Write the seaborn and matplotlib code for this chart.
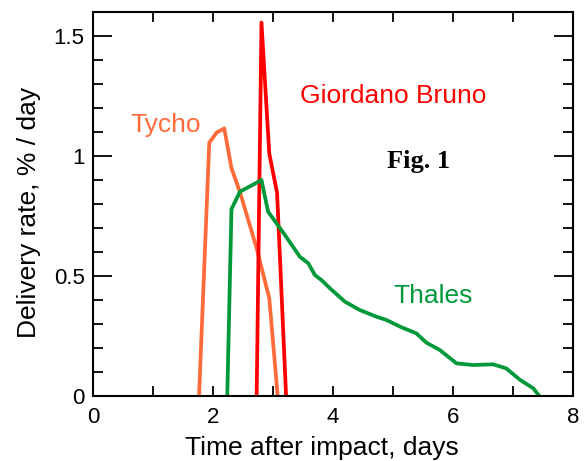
import numpy as np
import pandas as pd
import seaborn as sns
import matplotlib.pyplot as plt
from matplotlib.ticker import MultipleLocator

# ===== data =====
tycho_t = [1.77, 1.94, 2.06, 2.19, 2.31, 2.45, 2.59, 2.73, 2.94, 3.08]
tycho_v = [0.0, 1.055, 1.097, 1.115, 0.949, 0.851, 0.733, 0.615, 0.407, 0.0]

bruno_t = [2.73, 2.81, 2.94, 3.07, 3.22]
bruno_v = [0.0, 1.556, 1.01, 0.847, 0.0]

thales_t = [2.24, 2.31, 2.45, 2.76, 2.81, 2.92, 3.2, 3.45, 3.59, 3.7, 3.81, 3.95,
            4.2, 4.45, 4.73, 4.89, 5.12, 5.39, 5.56, 5.78, 6.06, 6.34, 6.67,
            6.89, 7.12, 7.34, 7.44]
thales_v = [0.0, 0.778, 0.851, 0.893, 0.9, 0.768, 0.671, 0.58, 0.553, 0.504, 0.483,
            0.449, 0.393, 0.358, 0.33, 0.317, 0.289, 0.261, 0.222, 0.192, 0.136,
            0.129, 0.132, 0.115, 0.067, 0.032, 0.0]

# ===== style =====
sns.set_style("ticks")
plt.rcParams['font.family'] = ['Liberation Sans', 'DejaVu Sans']
plt.rcParams['axes.linewidth'] = 1.5
plt.rcParams['axes.labelcolor'] = 'black'
plt.rcParams['text.color'] = 'black'

colors = {'Tycho': '#FF6A3A', 'Giordano Bruno': '#FF0000', 'Thales': '#00993A'}

df = pd.concat([
    pd.DataFrame({'t': tycho_t, 'v': tycho_v, 'crater': 'Tycho'}),
    pd.DataFrame({'t': bruno_t, 'v': bruno_v, 'crater': 'Giordano Bruno'}),
    pd.DataFrame({'t': thales_t, 'v': thales_v, 'crater': 'Thales'}),
])

fig = plt.figure(figsize=(5.84, 4.61), dpi=100)
ax = fig.add_axes([0.159, 0.141, 0.822, 0.833])

sns.lineplot(data=df, x='t', y='v', hue='crater', palette=colors,
             estimator=None, sort=False, linewidth=2.7, legend=False, ax=ax)

ax.set_xlim(0, 8)
ax.set_ylim(0, 1.6)
ax.xaxis.set_major_locator(MultipleLocator(2))
ax.xaxis.set_minor_locator(MultipleLocator(1))
ax.yaxis.set_major_locator(MultipleLocator(0.5))
ax.yaxis.set_minor_locator(MultipleLocator(0.1))
ax.yaxis.set_major_formatter(plt.FuncFormatter(lambda v, p: f"{v:g}"))

ax.tick_params(which='both', direction='in', top=True, right=True,
               width=1.3, color='black', labelsize=16, labelcolor='black')
ax.tick_params(axis='x', which='both', length=7, pad=8)
ax.tick_params(axis='y', which='major', length=14, pad=6)
ax.tick_params(axis='y', which='minor', length=7)
for s in ax.spines.values():
    s.set_color('black')
    s.set_visible(True)

ax.set_xlabel("Time after impact, days", fontsize=19, labelpad=4)
ax.set_ylabel("Delivery rate, % / day", fontsize=19, labelpad=9)
ax.xaxis.set_label_coords(0.477, -0.105)
ax.yaxis.label.set_y(0.477)

# ===== labels =====
ax.text(3.45, 1.221, "Giordano Bruno", color=colors['Giordano Bruno'], fontsize=19)
ax.text(0.617, 1.10, "Tycho", color=colors['Tycho'], fontsize=19)
ax.text(5.0, 0.3875, "Thales", color=colors['Thales'], fontsize=19)
ax.text(4.9, 0.95, "Fig. 1", color='black', fontsize=19, fontweight='bold',
        family=['Liberation Serif', 'DejaVu Serif'])

plt.savefig("out.png", dpi=100)
